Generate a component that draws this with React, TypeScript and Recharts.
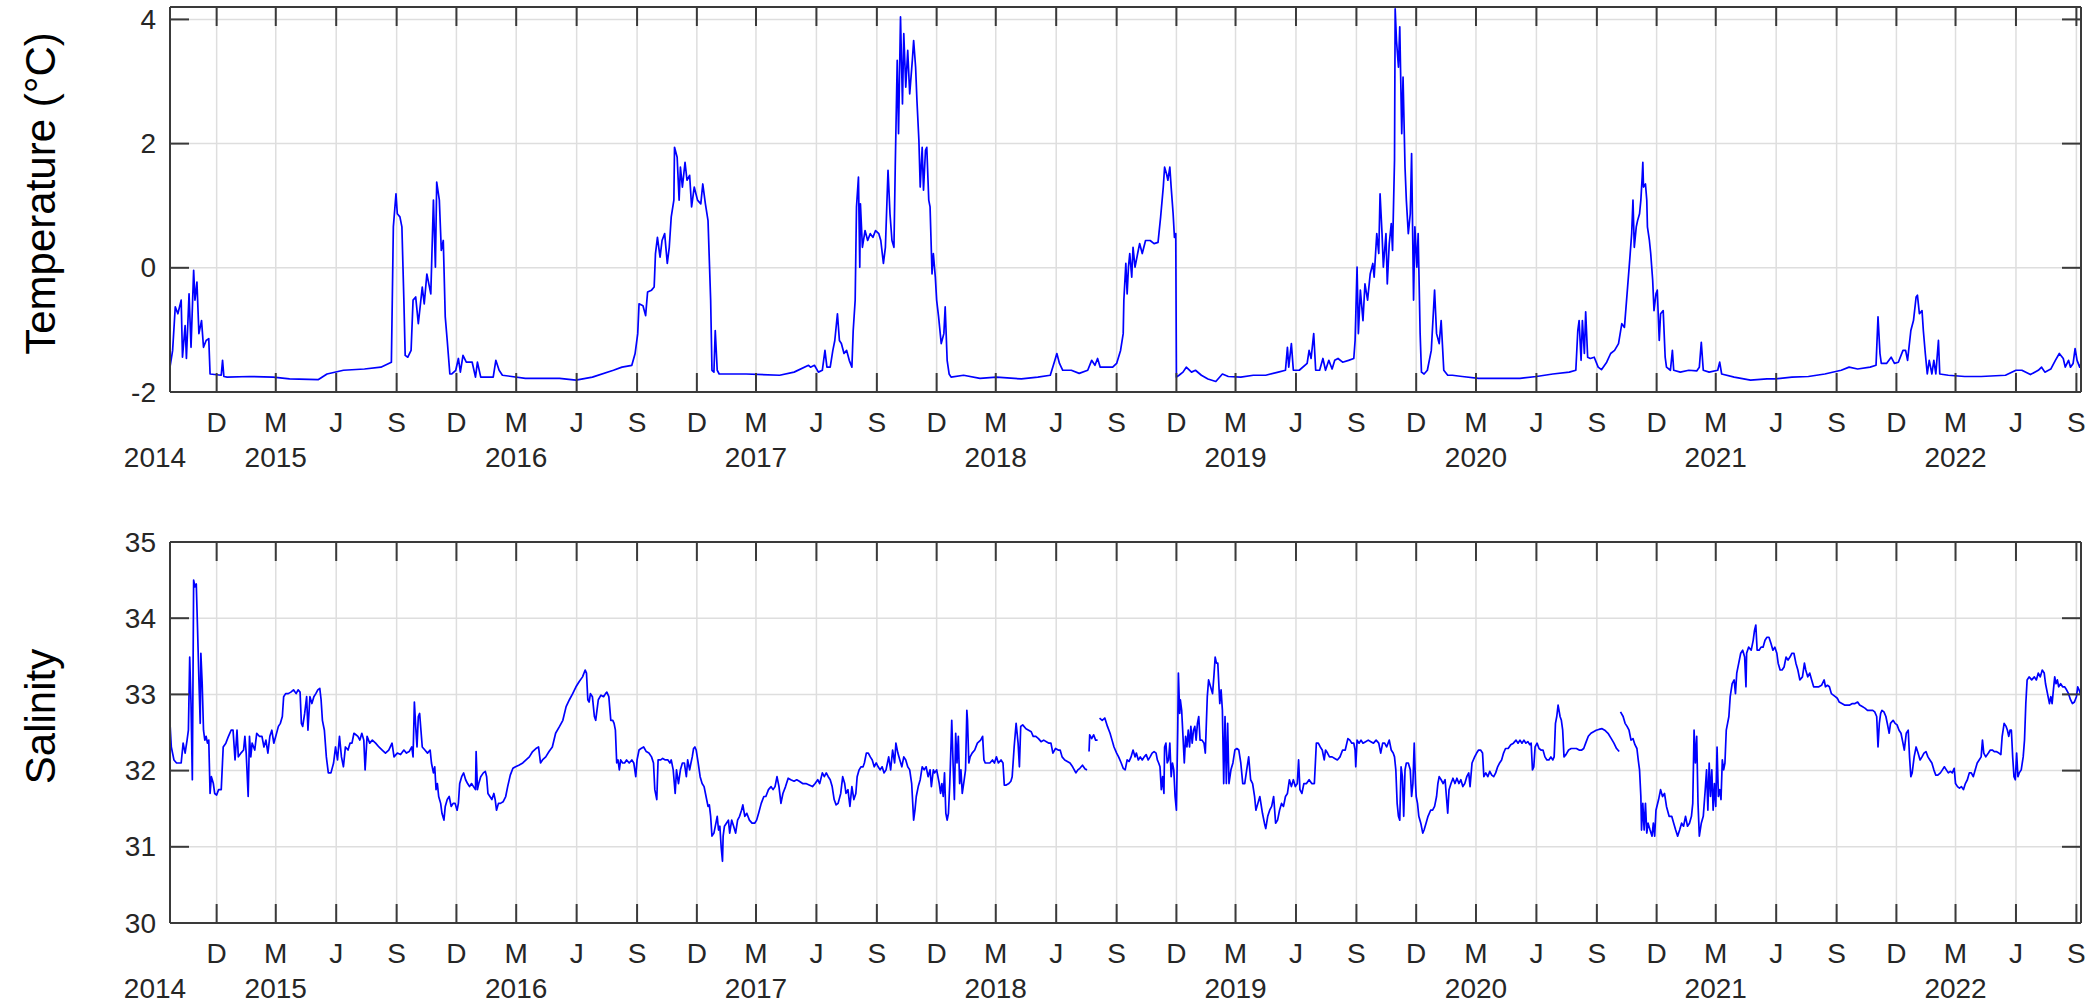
import React from "react";
import { LineChart, Line, XAxis, YAxis, CartesianGrid } from "recharts";

const FONT = '"Liberation Sans", Arial, Helvetica, sans-serif';
const INK = "#262626";
const FRAME = "#3a3a3a";
const GRID = "#dedede";
const TRACE = "#0000ff";
const TICK_LEN = 19;

// x values are days counted from 1 Dec 2014
const ORIGIN = Date.UTC(2014, 11, 1);
const X_START = -71;
const X_END = 2838;

const MONTH_LETTERS: Record<number, string> = { 3: "M", 6: "J", 9: "S", 12: "D" };
const YEARS = [2014, 2015, 2016, 2017, 2018, 2019, 2020, 2021, 2022];

const TEMP_TICKS = [-2, 0, 2, 4];
const TEMP_DOMAIN: [number, number] = [-2, 4.2];
const SAL_TICKS = [30, 31, 32, 33, 34, 35];
const SAL_DOMAIN: [number, number] = [30, 35];

// [day, °C]
const TEMPERATURE: [number, number][] = [
  [-71,-1.6],[-67,-1.33],[-63,-0.63],[-59,-0.74],[-54,-0.52],[-52,-1.44],[-48,-0.93],[-46,-1.46],[-42,-0.42],[-39,-1.28],
  [-35,-0.04],[-33,-0.52],[-30,-0.23],[-27,-1.06],[-23,-0.85],[-20,-1.28],[-16,-1.17],[-12,-1.14],[-10,-1.71],[7,-1.73],
  [9,-1.49],[11,-1.75],[16,-1.76],[50,-1.75],[86,-1.76],[111,-1.79],[155,-1.8],[168,-1.71],[193,-1.65],[225,-1.63],
  [250,-1.6],[266,-1.52],[269,0.66],[273,1.19],[275,0.87],[279,0.82],[282,0.66],[285,-0.52],[287,-1.41],[291,-1.44],
  [296,-1.33],[299,-0.52],[303,-0.47],[307,-0.9],[313,-0.31],[316,-0.58],[320,-0.1],[323,-0.26],[326,-0.42],[330,1.09],
  [333,0.01],[335,1.38],[339,1.09],[342,0.28],[345,0.44],[348,-0.79],[351,-1.17],[355,-1.71],[358,-1.71],[364,-1.65],
  [368,-1.46],[371,-1.68],[375,-1.41],[380,-1.52],[389,-1.52],[394,-1.76],[397,-1.52],[402,-1.76],[421,-1.76],[425,-1.49],
  [430,-1.65],[435,-1.73],[470,-1.78],[522,-1.78],[547,-1.81],[572,-1.76],[604,-1.65],[617,-1.6],[632,-1.57],[637,-1.38],
  [641,-1.06],[643,-0.58],[649,-0.61],[653,-0.77],[656,-0.39],[662,-0.36],[666,-0.31],[668,0.23],[671,0.49],[675,0.17],
  [678,0.44],[682,0.55],[686,0.07],[689,0.33],[692,0.82],[696,1.09],[697,1.94],[701,1.78],[704,1.09],[706,1.62],
  [709,1.3],[713,1.7],[716,1.41],[720,1.49],[723,0.98],[727,1.3],[732,1.09],[737,1.03],[740,1.35],[744,1.03],
  [748,0.76],[750,0.12],[752,-0.52],[754,-1.65],[757,-1.68],[759,-1.01],[762,-1.65],[765,-1.71],[806,-1.71],[857,-1.73],
  [879,-1.68],[901,-1.57],[904,-1.6],[910,-1.57],[916,-1.68],[922,-1.65],[926,-1.33],[929,-1.6],[934,-1.6],[938,-1.33],
  [941,-1.17],[945,-0.74],[948,-1.17],[951,-1.22],[955,-1.38],[959,-1.33],[963,-1.49],[967,-1.6],[969,-1.01],[972,-0.52],
  [974,0.98],[977,1.46],[979,0.01],[980,1.03],[983,0.33],[987,0.6],[991,0.44],[995,0.55],[999,0.49],[1003,0.6],
  [1008,0.55],[1011,0.44],[1015,0.07],[1018,0.33],[1022,1.57],[1025,0.87],[1028,0.44],[1031,0.33],[1033,1.62],[1036,3.34],
  [1038,2.16],[1041,4.04],[1044,2.64],[1046,3.77],[1049,2.91],[1052,3.5],[1055,2.8],[1059,3.34],[1061,3.66],[1064,3.23],
  [1066,2.7],[1069,2.05],[1071,1.3],[1074,1.94],[1076,1.25],[1079,1.89],[1081,1.94],[1084,1.09],[1086,0.98],[1089,-0.1],
  [1091,0.23],[1094,-0.15],[1096,-0.52],[1099,-0.79],[1103,-1.22],[1107,-1.06],[1109,-0.63],[1112,-1.49],[1115,-1.71],[1118,-1.76],
  [1137,-1.73],[1162,-1.78],[1187,-1.76],[1225,-1.79],[1250,-1.76],[1269,-1.73],[1276,-1.49],[1279,-1.38],[1283,-1.54],[1288,-1.65],
  [1301,-1.65],[1313,-1.7],[1326,-1.65],[1332,-1.49],[1337,-1.57],[1341,-1.46],[1345,-1.6],[1364,-1.6],[1370,-1.54],[1376,-1.33],
  [1380,-1.06],[1381,-0.52],[1384,0.07],[1386,-0.42],[1388,0.01],[1390,0.23],[1393,-0.15],[1395,0.33],[1398,0.01],[1402,0.23],
  [1405,0.39],[1409,0.23],[1414,0.44],[1421,0.44],[1427,0.39],[1433,0.41],[1437,0.82],[1441,1.3],[1443,1.62],[1446,1.51],
  [1448,1.41],[1451,1.62],[1453,1.3],[1456,0.87],[1458,0.49],[1460,0.55],[1461,-1.76],[1465,-1.73],[1471,-1.68],[1476,-1.6],
  [1484,-1.68],[1490,-1.65],[1499,-1.73],[1509,-1.79],[1521,-1.83],[1531,-1.71],[1540,-1.75],[1559,-1.76],[1578,-1.73],[1597,-1.73],
  [1616,-1.68],[1627,-1.65],[1630,-1.28],[1632,-1.6],[1636,-1.22],[1639,-1.65],[1648,-1.65],[1660,-1.54],[1663,-1.33],[1666,-1.46],
  [1670,-1.06],[1673,-1.65],[1679,-1.65],[1684,-1.46],[1688,-1.65],[1693,-1.49],[1698,-1.63],[1702,-1.49],[1707,-1.46],[1714,-1.52],
  [1723,-1.49],[1731,-1.46],[1733,-1.17],[1736,0.01],[1738,-1.06],[1741,-0.36],[1745,-0.85],[1748,-0.26],[1752,-0.52],[1756,-0.1],
  [1760,0.07],[1762,-0.15],[1766,0.55],[1769,0.23],[1771,1.19],[1774,0.55],[1776,0.01],[1780,0.55],[1782,-0.26],[1785,0.39],
  [1788,0.71],[1790,0.28],[1793,1.73],[1794,4.17],[1796,3.66],[1799,3.23],[1801,3.88],[1804,2.16],[1806,3.07],[1809,1.62],
  [1811,1.09],[1814,0.55],[1817,0.87],[1819,1.84],[1822,-0.52],[1824,0.66],[1827,0.01],[1829,0.55],[1832,-1.06],[1834,-1.68],
  [1838,-1.71],[1843,-1.65],[1849,-1.33],[1854,-0.36],[1857,-1.06],[1861,-1.22],[1864,-0.85],[1868,-1.65],[1874,-1.73],[1881,-1.73],
  [1896,-1.75],[1921,-1.78],[1946,-1.78],[1984,-1.78],[2009,-1.75],[2034,-1.71],[2059,-1.68],[2069,-1.65],[2072,-1.01],[2074,-0.85],
  [2077,-1.49],[2079,-0.85],[2082,-1.38],[2084,-0.71],[2087,-1.44],[2091,-1.46],[2097,-1.44],[2103,-1.6],[2108,-1.64],[2116,-1.52],
  [2122,-1.38],[2128,-1.33],[2134,-1.22],[2139,-0.9],[2143,-0.96],[2147,-0.42],[2151,0.12],[2154,0.55],[2156,1.09],[2158,0.33],
  [2161,0.66],[2163,0.76],[2166,0.87],[2168,1.09],[2170,1.46],[2171,1.7],[2172,1.3],[2175,1.35],[2177,1.09],[2178,0.66],
  [2181,0.44],[2183,0.23],[2186,-0.2],[2188,-0.69],[2191,-0.42],[2193,-0.36],[2196,-1.17],[2198,-0.74],[2202,-0.69],[2205,-1.44],
  [2207,-1.6],[2213,-1.65],[2216,-1.33],[2218,-1.65],[2228,-1.68],[2241,-1.65],[2253,-1.66],[2257,-1.6],[2260,-1.2],[2263,-1.65],
  [2272,-1.68],[2285,-1.65],[2288,-1.52],[2291,-1.71],[2310,-1.76],[2335,-1.81],[2360,-1.79],[2373,-1.79],[2398,-1.76],[2423,-1.75],
  [2448,-1.71],[2473,-1.65],[2485,-1.6],[2498,-1.63],[2517,-1.6],[2526,-1.57],[2529,-0.79],[2532,-1.38],[2534,-1.54],[2542,-1.54],
  [2549,-1.44],[2554,-1.54],[2560,-1.52],[2567,-1.33],[2571,-1.33],[2574,-1.49],[2579,-1.01],[2583,-0.85],[2587,-0.47],[2589,-0.44],
  [2592,-0.74],[2596,-0.69],[2598,-1.01],[2601,-1.38],[2604,-1.71],[2607,-1.49],[2611,-1.71],[2614,-1.49],[2617,-1.71],[2621,-1.17],
  [2623,-1.71],[2636,-1.73],[2661,-1.75],[2686,-1.75],[2723,-1.73],[2739,-1.65],[2748,-1.65],[2761,-1.72],[2773,-1.65],[2778,-1.6],
  [2783,-1.68],[2792,-1.63],[2799,-1.49],[2805,-1.38],[2811,-1.46],[2814,-1.6],[2819,-1.49],[2822,-1.6],[2826,-1.54],[2829,-1.3],
  [2832,-1.49],[2836,-1.6],[2838,-1.54],
];

// [day, salinity]; null marks a gap in the record
const SALINITY: [number, number | null][] = [
  [-71,32.62],[-69,32.31],[-65,32.14],[-61,32.1],[-54,32.1],[-51,32.36],[-48,32.23],[-45,32.4],[-43,32.53],[-41,33.49],
  [-39,32.88],[-37,31.88],[-35,34.5],[-33,34.41],[-31,34.45],[-29,33.84],[-27,33.19],[-25,32.62],[-24,33.54],[-22,33.14],
  [-20,32.53],[-18,32.4],[-16,32.45],[-14,32.36],[-12,32.4],[-10,31.7],[-8,31.92],[-5,31.83],[-3,31.7],[0,31.68],
  [3,31.75],[7,31.75],[10,32.31],[14,32.36],[18,32.45],[22,32.53],[25,32.53],[28,32.14],[31,32.53],[33,32.18],
  [37,32.23],[41,32.27],[43,32.45],[45,32.23],[48,31.66],[50,32.45],[52,32.18],[54,32.36],[58,32.27],[61,32.49],
  [65,32.45],[69,32.45],[72,32.31],[75,32.4],[78,32.23],[81,32.45],[84,32.53],[87,32.36],[90,32.45],[94,32.58],
  [97,32.62],[100,32.71],[102,32.97],[105,33.01],[109,33.01],[113,33.03],[117,33.06],[121,33.01],[124,33.06],[127,33.03],
  [129,32.62],[131,32.58],[134,32.75],[137,32.97],[139,32.53],[142,32.97],[145,32.88],[148,32.97],[151,33.01],[154,33.06],
  [157,33.08],[159,32.93],[161,32.66],[164,32.53],[167,32.18],[170,31.97],[174,31.97],[178,32.1],[181,32.31],[184,32.14],
  [187,32.45],[190,32.18],[193,32.05],[196,32.31],[200,32.27],[203,32.36],[206,32.36],[209,32.49],[212,32.47],[215,32.45],
  [218,32.4],[221,32.49],[224,32.4],[226,32.01],[229,32.45],[233,32.36],[237,32.4],[242,32.36],[247,32.31],[252,32.27],
  [257,32.23],[262,32.27],[267,32.36],[270,32.18],[275,32.23],[280,32.21],[285,32.27],[289,32.23],[293,32.25],[297,32.31],
  [299,32.18],[301,32.9],[303,32.58],[305,32.31],[307,32.71],[309,32.75],[311,32.53],[313,32.31],[317,32.27],[321,32.23],
  [325,32.27],[327,32.1],[330,31.97],[332,32.05],[334,31.75],[336,31.83],[338,31.66],[341,31.57],[343,31.44],[346,31.35],
  [348,31.53],[351,31.62],[354,31.66],[357,31.53],[360,31.57],[363,31.57],[366,31.48],[368,31.57],[370,31.83],[373,31.92],
  [376,31.97],[379,31.88],[382,31.83],[385,31.79],[388,31.83],[391,31.79],[394,31.75],[395,32.25],[397,31.75],[399,31.83],
  [402,31.92],[406,31.97],[409,31.99],[411,31.92],[413,31.7],[416,31.66],[419,31.62],[422,31.7],[424,31.62],[426,31.48],
  [429,31.57],[432,31.57],[436,31.59],[440,31.66],[443,31.79],[447,31.94],[451,32.03],[455,32.05],[460,32.07],[466,32.1],
  [471,32.14],[476,32.18],[481,32.25],[486,32.29],[490,32.31],[493,32.1],[496,32.14],[501,32.18],[506,32.25],[511,32.31],
  [516,32.49],[522,32.58],[527,32.66],[532,32.84],[537,32.93],[542,33.01],[547,33.1],[552,33.17],[557,33.23],[561,33.32],
  [563,33.28],[565,32.93],[567,32.9],[569,33.01],[572,32.97],[575,32.71],[577,32.66],[581,32.93],[585,32.99],[589,32.97],
  [592,33.01],[594,33.03],[597,32.97],[600,32.66],[603,32.66],[605,32.62],[607,32.53],[609,32.1],[611,32.14],[613,32.01],
  [615,32.14],[618,32.1],[621,32.1],[624,32.14],[628,32.1],[632,32.14],[635,32.1],[638,31.92],[640,32.14],[643,32.27],
  [646,32.29],[650,32.31],[654,32.25],[658,32.23],[662,32.18],[665,32.1],[667,31.75],[670,31.62],[672,32.14],[676,32.14],
  [679,32.16],[683,32.14],[687,32.14],[690,32.1],[692,32.14],[695,32.01],[698,31.7],[700,32.01],[703,31.83],[706,32.01],
  [709,32.1],[712,32.1],[715,31.92],[717,32.14],[720,32.01],[722,32.1],[724,32.18],[726,32.29],[728,32.31],[730,32.27],
  [733,32.1],[736,31.92],[739,31.83],[742,31.79],[745,31.66],[748,31.53],[750,31.55],[752,31.4],[754,31.14],[757,31.18],
  [760,31.31],[762,31.4],[764,31.22],[766,31.27],[768,31.0],[770,30.81],[771,31.14],[773,31.27],[776,31.31],[779,31.35],
  [781,31.18],[784,31.35],[787,31.27],[790,31.18],[793,31.35],[796,31.4],[799,31.48],[801,31.55],[804,31.4],[807,31.44],
  [811,31.35],[815,31.31],[819,31.31],[822,31.35],[825,31.44],[829,31.57],[833,31.66],[836,31.66],[840,31.75],[844,31.79],
  [847,31.75],[850,31.79],[853,31.92],[856,31.79],[859,31.57],[862,31.7],[866,31.79],[870,31.9],[874,31.88],[879,31.86],
  [883,31.88],[887,31.86],[892,31.83],[897,31.83],[902,31.81],[907,31.79],[911,31.83],[915,31.88],[918,31.83],[922,31.97],
  [925,31.92],[928,31.97],[931,31.92],[934,31.88],[937,31.79],[940,31.62],[943,31.55],[946,31.57],[950,31.7],[953,31.92],
  [956,31.83],[958,31.7],[961,31.75],[964,31.53],[967,31.79],[970,31.62],[973,31.7],[975,31.92],[978,32.01],[981,32.05],
  [984,32.05],[986,32.1],[989,32.23],[992,32.23],[995,32.18],[998,32.14],[1001,32.05],[1004,32.1],[1007,32.05],[1010,32.01],
  [1013,32.05],[1016,31.97],[1019,32.01],[1023,32.18],[1026,32.01],[1029,32.27],[1032,32.1],[1034,32.36],[1037,32.23],[1040,32.14],
  [1043,32.05],[1046,32.18],[1049,32.14],[1052,32.05],[1055,32.01],[1058,31.83],[1061,31.35],[1063,31.48],[1065,31.66],[1068,31.79],
  [1071,31.88],[1074,32.05],[1077,32.01],[1080,32.05],[1083,31.92],[1086,32.01],[1088,31.79],[1091,32.01],[1093,31.97],[1096,32.01],
  [1098,31.92],[1100,31.83],[1102,31.7],[1104,31.83],[1106,31.66],[1108,31.97],[1110,31.44],[1112,31.35],[1114,31.44],[1116,31.83],
  [1118,32.36],[1119,32.66],[1121,32.1],[1123,31.62],[1125,32.49],[1127,32.1],[1129,32.45],[1131,31.83],[1133,32.01],[1135,31.7],
  [1138,31.88],[1140,32.01],[1142,32.79],[1143,32.66],[1145,32.1],[1147,32.18],[1150,32.23],[1154,32.27],[1158,32.36],[1163,32.4],
  [1166,32.45],[1168,32.14],[1170,32.1],[1173,32.1],[1177,32.1],[1181,32.14],[1184,32.1],[1187,32.18],[1190,32.1],[1194,32.14],
  [1197,32.1],[1199,31.81],[1202,31.81],[1206,31.83],[1209,31.86],[1211,31.92],[1214,32.31],[1217,32.62],[1220,32.36],[1222,32.05],
  [1224,32.58],[1227,32.6],[1232,32.55],[1236,32.53],[1240,32.51],[1243,32.45],[1247,32.45],[1251,32.42],[1255,32.38],[1259,32.4],
  [1263,32.38],[1267,32.36],[1270,32.36],[1273,32.23],[1277,32.29],[1281,32.27],[1284,32.27],[1287,32.18],[1291,32.14],[1295,32.12],
  [1299,32.1],[1303,32.05],[1308,31.97],[1311,32.01],[1314,32.03],[1318,32.07],[1322,32.02],[1325,32.01],[1326,null],[1328,32.25],
  [1329,32.47],[1332,32.42],[1335,32.47],[1338,32.4],[1341,32.4],[1342,null],[1344,32.69],[1348,32.66],[1352,32.69],[1356,32.58],
  [1360,32.49],[1363,32.4],[1366,32.31],[1370,32.23],[1373,32.18],[1377,32.1],[1380,32.03],[1383,32.01],[1386,32.14],[1389,32.12],
  [1392,32.18],[1395,32.27],[1398,32.18],[1400,32.23],[1403,32.14],[1406,32.18],[1409,32.14],[1412,32.18],[1415,32.21],[1418,32.14],
  [1421,32.18],[1424,32.23],[1427,32.25],[1430,32.23],[1432,32.14],[1434,32.1],[1436,32.05],[1438,31.75],[1440,31.92],[1442,31.7],
  [1443,32.31],[1445,32.36],[1447,32.1],[1449,32.14],[1451,32.36],[1453,31.92],[1455,32.1],[1457,32.01],[1459,31.66],[1461,31.48],
  [1463,32.53],[1464,33.28],[1466,32.75],[1467,32.93],[1469,32.79],[1471,32.45],[1473,32.1],[1475,32.45],[1477,32.31],[1479,32.53],
  [1481,32.31],[1483,32.58],[1485,32.36],[1487,32.53],[1489,32.58],[1491,32.4],[1493,32.62],[1495,32.71],[1497,32.4],[1500,32.4],
  [1503,32.36],[1505,32.23],[1508,32.97],[1510,33.19],[1513,33.1],[1516,33.01],[1518,33.23],[1520,33.49],[1522,33.41],[1524,33.41],
  [1527,32.88],[1529,33.06],[1531,32.79],[1533,31.83],[1535,32.71],[1537,31.83],[1539,32.62],[1541,31.83],[1544,32.01],[1547,32.1],
  [1550,32.27],[1553,32.29],[1556,32.27],[1559,32.1],[1562,31.83],[1565,31.83],[1568,32.01],[1571,32.18],[1574,31.88],[1577,31.83],
  [1580,31.66],[1582,31.48],[1585,31.57],[1588,31.66],[1592,31.44],[1595,31.31],[1597,31.24],[1600,31.4],[1603,31.48],[1606,31.53],
  [1609,31.66],[1612,31.31],[1615,31.35],[1618,31.48],[1621,31.57],[1624,31.53],[1627,31.66],[1630,31.7],[1633,31.88],[1636,31.79],
  [1639,31.88],[1642,31.79],[1645,31.83],[1647,32.14],[1649,31.75],[1652,31.7],[1655,31.83],[1659,31.83],[1663,31.88],[1667,31.83],
  [1671,31.83],[1674,32.36],[1677,32.36],[1680,32.31],[1683,32.27],[1686,32.14],[1688,32.27],[1691,32.23],[1694,32.18],[1698,32.18],
  [1702,32.16],[1706,32.14],[1710,32.18],[1714,32.27],[1718,32.27],[1722,32.42],[1725,32.4],[1728,32.36],[1731,32.36],[1733,32.27],
  [1734,32.05],[1736,32.4],[1739,32.36],[1742,32.4],[1745,32.36],[1749,32.38],[1753,32.4],[1757,32.38],[1761,32.36],[1765,32.4],
  [1769,32.36],[1772,32.23],[1775,32.36],[1778,32.36],[1781,32.31],[1785,32.4],[1788,32.27],[1791,32.23],[1793,32.18],[1795,32.01],
  [1797,31.57],[1799,31.4],[1801,31.35],[1803,32.05],[1805,31.92],[1807,31.4],[1809,32.01],[1811,32.1],[1814,32.1],[1817,32.01],
  [1819,31.66],[1821,31.83],[1823,32.36],[1825,31.83],[1826,31.66],[1828,31.57],[1830,31.4],[1833,31.31],[1836,31.18],[1838,31.22],
  [1841,31.31],[1844,31.4],[1848,31.48],[1851,31.48],[1854,31.53],[1857,31.66],[1859,31.83],[1861,31.92],[1864,31.88],[1867,31.83],
  [1870,31.88],[1872,31.66],[1874,31.44],[1876,31.75],[1879,31.83],[1882,31.9],[1885,31.83],[1888,31.9],[1891,31.83],[1894,31.88],
  [1897,31.79],[1900,31.83],[1903,31.92],[1906,31.97],[1908,31.79],[1911,32.1],[1915,32.18],[1918,32.23],[1921,32.27],[1924,32.27],
  [1927,32.23],[1929,31.92],[1932,31.97],[1935,31.92],[1938,31.99],[1941,31.94],[1944,31.92],[1947,31.97],[1950,32.05],[1953,32.1],
  [1956,32.14],[1959,32.23],[1962,32.29],[1966,32.29],[1970,32.34],[1974,32.36],[1978,32.4],[1981,32.36],[1984,32.4],[1987,32.36],
  [1990,32.4],[1993,32.36],[1996,32.38],[1999,32.34],[2001,32.36],[2003,32.01],[2005,32.05],[2007,32.31],[2010,32.36],[2013,32.29],
  [2016,32.27],[2019,32.27],[2022,32.18],[2025,32.14],[2028,32.14],[2031,32.18],[2034,32.14],[2036,32.18],[2038,32.62],[2040,32.71],
  [2042,32.86],[2045,32.71],[2047,32.66],[2049,32.53],[2051,32.18],[2054,32.21],[2058,32.27],[2062,32.29],[2066,32.29],[2070,32.29],
  [2074,32.27],[2078,32.27],[2081,32.29],[2084,32.36],[2088,32.45],[2092,32.49],[2096,32.51],[2100,32.53],[2104,32.54],[2109,32.55],
  [2113,32.53],[2118,32.49],[2123,32.42],[2127,32.36],[2131,32.29],[2135,32.25],[2136,null],[2137,32.77],[2141,32.71],[2144,32.62],
  [2147,32.58],[2150,32.53],[2153,32.4],[2156,32.42],[2159,32.34],[2162,32.29],[2164,32.14],[2166,32.01],[2168,31.66],[2169,31.22],
  [2171,31.57],[2173,31.22],[2175,31.57],[2177,31.18],[2179,31.31],[2182,31.22],[2185,31.14],[2187,31.31],[2189,31.14],[2191,31.48],
  [2195,31.62],[2198,31.75],[2201,31.66],[2204,31.7],[2207,31.53],[2211,31.4],[2215,31.4],[2218,31.31],[2221,31.22],[2224,31.14],
  [2227,31.22],[2230,31.31],[2233,31.27],[2236,31.4],[2239,31.27],[2242,31.31],[2245,31.4],[2247,31.57],[2249,32.53],[2251,32.1],
  [2253,32.45],[2255,31.57],[2257,31.14],[2260,31.31],[2263,31.4],[2266,31.75],[2268,32.01],[2270,31.48],[2272,32.1],[2274,31.66],
  [2276,32.01],[2278,31.48],[2280,31.83],[2282,31.53],[2284,32.31],[2286,31.66],[2288,31.75],[2290,31.62],[2292,32.14],[2294,32.01],
  [2296,32.1],[2298,32.53],[2300,32.62],[2302,32.71],[2304,32.97],[2307,33.14],[2310,33.19],[2312,33.01],[2314,33.28],[2317,33.41],
  [2320,33.54],[2323,33.58],[2326,33.49],[2328,33.1],[2329,33.54],[2332,33.62],[2336,33.58],[2339,33.71],[2341,33.84],[2343,33.91],
  [2345,33.58],[2348,33.58],[2351,33.62],[2354,33.62],[2357,33.71],[2360,33.75],[2363,33.75],[2366,33.67],[2369,33.58],[2372,33.62],
  [2375,33.54],[2377,33.41],[2380,33.32],[2383,33.32],[2386,33.36],[2389,33.49],[2392,33.45],[2395,33.49],[2398,33.54],[2401,33.54],
  [2404,33.41],[2407,33.32],[2410,33.19],[2414,33.23],[2417,33.41],[2419,33.32],[2422,33.23],[2425,33.28],[2428,33.19],[2431,33.1],
  [2435,33.1],[2439,33.1],[2443,33.12],[2447,33.19],[2449,33.1],[2452,33.12],[2455,33.1],[2458,33.01],[2461,32.99],[2464,32.97],
  [2467,32.95],[2470,32.9],[2474,32.88],[2478,32.86],[2482,32.86],[2486,32.86],[2490,32.88],[2494,32.88],[2498,32.9],[2501,32.86],
  [2505,32.84],[2509,32.82],[2513,32.79],[2517,32.79],[2521,32.79],[2524,32.77],[2527,32.71],[2529,32.31],[2531,32.62],[2533,32.75],
  [2535,32.79],[2538,32.77],[2541,32.71],[2544,32.58],[2546,32.49],[2548,32.62],[2552,32.66],[2555,32.62],[2558,32.6],[2561,32.53],
  [2564,32.49],[2567,32.36],[2569,32.27],[2572,32.49],[2575,32.53],[2577,32.18],[2579,31.92],[2581,31.97],[2584,32.18],[2587,32.31],
  [2590,32.23],[2593,32.14],[2596,32.18],[2599,32.23],[2602,32.25],[2605,32.18],[2608,32.14],[2611,32.1],[2614,32.01],[2617,31.94],
  [2620,31.94],[2624,31.97],[2627,32.01],[2630,32.05],[2633,32.01],[2636,31.97],[2639,31.99],[2642,31.97],[2645,32.03],[2647,31.83],
  [2650,31.79],[2653,31.77],[2656,31.79],[2659,31.75],[2662,31.83],[2665,31.88],[2668,31.97],[2671,31.97],[2674,31.92],[2677,32.01],
  [2680,32.1],[2683,32.14],[2686,32.18],[2688,32.4],[2690,32.23],[2693,32.18],[2697,32.23],[2700,32.27],[2703,32.27],[2706,32.25],
  [2709,32.25],[2713,32.23],[2716,32.21],[2718,32.45],[2721,32.62],[2724,32.58],[2726,32.53],[2728,32.45],[2730,32.53],[2732,32.53],
  [2734,32.18],[2736,31.92],[2738,31.88],[2740,32.23],[2742,31.92],[2744,31.97],[2747,32.01],[2750,32.18],[2752,32.4],[2754,32.88],
  [2756,33.19],[2759,33.23],[2763,33.19],[2767,33.23],[2770,33.19],[2773,33.28],[2776,33.23],[2779,33.32],[2782,33.28],[2784,33.14],
  [2787,33.01],[2790,32.88],[2792,32.97],[2794,32.88],[2796,33.06],[2798,33.23],[2800,33.14],[2802,33.19],[2804,33.1],[2807,33.14],
  [2810,33.1],[2813,33.1],[2816,33.06],[2819,33.01],[2822,32.93],[2825,32.88],[2828,32.9],[2831,32.97],[2833,33.1],[2835,33.06],
  [2837,33.01],
];

// month ticks (Dec, Mar, Jun, Sep) and the year written under each March tick
const MONTH_AT: Record<number, string> = {};
const YEAR_AT: Record<number, string> = { [X_START]: String(YEARS[0]) };
const X_TICKS: number[] = [X_START];
YEARS.forEach((yr) => {
  [3, 6, 9, 12].forEach((m) => {
    const d = Math.round((Date.UTC(yr, m - 1, 1) - ORIGIN) / 86400000);
    if (d < 0 || d > X_END) return;
    X_TICKS.push(d);
    MONTH_AT[d] = MONTH_LETTERS[m];
    if (m === 3) YEAR_AT[d] = String(yr);
  });
});

const tempData = TEMPERATURE.map(([day, v]) => ({ day, v }));
const salData = SALINITY.map(([day, v]) => ({ day, v }));

const textStyle = { fontFamily: FONT, fontSize: 28, fill: INK };

function BottomTick(props: any) {
  const { x, y, payload } = props;
  const v = payload.value;
  const month = MONTH_AT[v];
  const year = YEAR_AT[v];
  return (
    <g>
      {v !== X_START && <line x1={x} x2={x} y1={y} y2={y - TICK_LEN} stroke={FRAME} strokeWidth={2} />}
      {month && (
        <text x={x} y={y + 30} textAnchor="middle" dominantBaseline="central" style={textStyle}>
          {month}
        </text>
      )}
      {year && (
        <text x={v === X_START ? x - 15 : x} y={y + 65} textAnchor="middle" dominantBaseline="central" style={textStyle}>
          {year}
        </text>
      )}
    </g>
  );
}

function TopTick(props: any) {
  const { x, y, payload } = props;
  if (payload.value === X_START) return <g />;
  return <line x1={x} x2={x} y1={y} y2={y + TICK_LEN} stroke={FRAME} strokeWidth={2} />;
}

function LeftTick(props: any) {
  const { x, y, payload } = props;
  return (
    <g>
      <line x1={x} x2={x + TICK_LEN} y1={y} y2={y} stroke={FRAME} strokeWidth={2} />
      <text x={x - 14} y={y} textAnchor="end" dominantBaseline="central" style={textStyle}>
        {payload.value}
      </text>
    </g>
  );
}

function RightTick(props: any) {
  const { x, y } = props;
  return <line x1={x} x2={x - TICK_LEN} y1={y} y2={y} stroke={FRAME} strokeWidth={2} />;
}

function AxisTitle(props: any) {
  const { viewBox, text, shift } = props;
  const cx = viewBox.x + 40;
  const cy = viewBox.y + viewBox.height / 2 + shift;
  return (
    <text
      x={cx}
      y={cy}
      transform={`rotate(-90, ${cx}, ${cy})`}
      textAnchor="middle"
      dominantBaseline="central"
      style={{ fontFamily: FONT, fontSize: 42, fill: "#000" }}
    >
      {text}
    </text>
  );
}

interface PanelProps {
  data: { day: number; v: number | null }[];
  domain: [number, number];
  ticks: number[];
  title: string;
  titleShift: number;
  height: number;
  topSpace: number;
  bottomSpace: number;
}

function Panel({ data, domain, ticks, title, titleShift, height, topSpace, bottomSpace }: PanelProps) {
  const edges = [
    { day: X_START, v: domain[0] },
    { day: X_END, v: domain[0] },
  ];
  return (
    <LineChart width={2098} height={height} margin={{ top: 0, right: 0, bottom: 0, left: 0 }}>
      <CartesianGrid xAxisId="b" yAxisId="l" stroke={GRID} strokeWidth={1.5} />
      <XAxis
        xAxisId="b"
        dataKey="day"
        type="number"
        domain={[X_START, X_END]}
        ticks={X_TICKS}
        interval={0}
        allowDataOverflow
        height={bottomSpace}
        tickSize={0}
        tickMargin={0}
        tickLine={false}
        axisLine={{ stroke: FRAME, strokeWidth: 2 }}
        tick={(p: any) => <BottomTick {...p} />}
      />
      <XAxis
        xAxisId="t"
        orientation="top"
        dataKey="day"
        type="number"
        domain={[X_START, X_END]}
        ticks={X_TICKS}
        interval={0}
        allowDataOverflow
        height={topSpace}
        tickSize={0}
        tickMargin={0}
        tickLine={false}
        axisLine={{ stroke: FRAME, strokeWidth: 2 }}
        tick={(p: any) => <TopTick {...p} />}
      />
      <YAxis
        yAxisId="l"
        type="number"
        domain={domain}
        ticks={ticks}
        interval={0}
        allowDataOverflow
        width={170}
        tickSize={0}
        tickMargin={0}
        tickLine={false}
        axisLine={{ stroke: FRAME, strokeWidth: 2 }}
        tick={(p: any) => <LeftTick {...p} />}
        label={<AxisTitle text={title} shift={titleShift} />}
      />
      <YAxis
        yAxisId="r"
        orientation="right"
        type="number"
        domain={domain}
        ticks={ticks}
        interval={0}
        allowDataOverflow
        width={17}
        tickSize={0}
        tickMargin={0}
        tickLine={false}
        axisLine={{ stroke: FRAME, strokeWidth: 2 }}
        tick={(p: any) => <RightTick {...p} />}
      />
      <Line
        xAxisId="b"
        yAxisId="l"
        data={data}
        dataKey="v"
        type="linear"
        stroke={TRACE}
        strokeWidth={1.7}
        strokeLinejoin="round"
        dot={false}
        activeDot={false}
        connectNulls={false}
        isAnimationActive={false}
      />
      <Line
        xAxisId="t"
        yAxisId="r"
        data={edges}
        dataKey="v"
        stroke="none"
        dot={false}
        activeDot={false}
        isAnimationActive={false}
      />
    </LineChart>
  );
}

export default function App() {
  return (
    <div style={{ position: "absolute", left: 0, top: 0, width: 2098, height: 1005, background: "#fff" }}>
      <div style={{ position: "absolute", left: 0, top: 0 }}>
        <Panel
          data={tempData}
          domain={TEMP_DOMAIN}
          ticks={TEMP_TICKS}
          title="Temperature (°C)"
          titleShift={-6}
          height={482}
          topSpace={7}
          bottomSpace={90}
        />
      </div>
      <div style={{ position: "absolute", left: 0, top: 482 }}>
        <Panel
          data={salData}
          domain={SAL_DOMAIN}
          ticks={SAL_TICKS}
          title="Salinity"
          titleShift={-16}
          height={523}
          topSpace={60}
          bottomSpace={82}
        />
      </div>
    </div>
  );
}
